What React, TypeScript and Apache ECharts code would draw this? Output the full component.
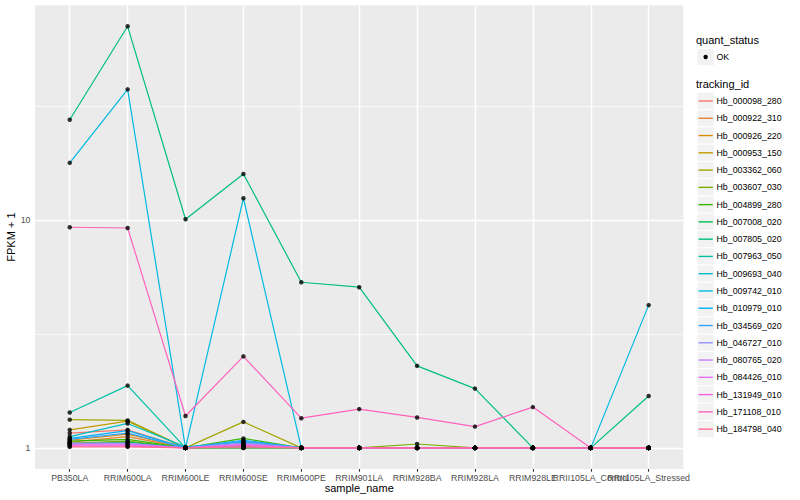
import React, { useEffect, useRef } from "react";
import * as echarts from "echarts";

const sampleNames = [
  "PB350LA", "RRIM600LA", "RRIM600LE", "RRIM600SE", "RRIM600PE", "RRIM901LA",
  "RRIM928BA", "RRIM928LA", "RRIM928LE", "RRII105LA_Control", "RRII105LA_Stressed",
];

const trackingIds = [
  "Hb_000098_280", "Hb_000922_310", "Hb_000926_220", "Hb_000953_150", "Hb_003362_060",
  "Hb_003607_030", "Hb_004899_280", "Hb_007008_020", "Hb_007805_020", "Hb_007963_050",
  "Hb_009693_040", "Hb_009742_010", "Hb_010979_010", "Hb_034569_020", "Hb_046727_010",
  "Hb_080765_020", "Hb_084426_010", "Hb_131949_010", "Hb_171108_010", "Hb_184798_040",
];

const hueColors = [
  "#F8766D", "#EA8331", "#D89000", "#C09B00", "#A3A500", "#7CAE00", "#39B600", "#00BB4E",
  "#00BF7D", "#00C1A3", "#00BFC4", "#00BAE0", "#00B0F6", "#35A2FF", "#9590FF", "#C77CFF",
  "#E76BF3", "#FA62DB", "#FF62BC", "#FF6C91",
];

// FPKM + 1 per sample, one array per tracking_id
const hb000098_280 = [1.16, 1.2, 1.0, 1.02, 1, 1, 1, 1, 1, 1, 1];
const hb000922_310 = [1.06, 1.12, 1.0, 1.01, 1, 1, 1, 1, 1, 1, 1];
const hb000926_220 = [1.08, 1.15, 1.0, 1.0, 1, 1, 1, 1, 1, 1, 1];
const hb000953_150 = [1.2, 1.31, 1.0, 1.0, 1, 1, 1, 1, 1, 1, 1];
const hb003362_060 = [1.33, 1.32, 1.0, 1.3, 1, 1, 1, 1, 1, 1, 1];
const hb003607_030 = [1.05, 1.07, 1.0, 1.03, 1, 1, 1.04, 1, 1, 1, 1];
const hb004899_280 = [1.07, 1.09, 1.0, 1.1, 1, 1, 1, 1, 1, 1, 1];
const hb007008_020 = [1.04, 1.06, 1.0, 1.02, 1, 1, 1, 1, 1, 1, 1];
const hb007805_020 = [27.5, 70.7, 10.07, 15.9, 5.33, 5.07, 2.29, 1.82, 1, 1, 1.69];
const hb007963_050 = [1.43, 1.876, 1.0, 1.0, 1, 1, 1, 1, 1, 1, 1];
const hb009693_040 = [1.12, 1.28, 1.01, 1.06, 1, 1, 1, 1, 1, 1, 1];
const hb009742_010 = [17.8, 37.4, 1.0, 12.45, 1, 1, 1, 1, 1, 1, 4.23];
const hb010979_010 = [1.1, 1.19, 1.0, 1.08, 1, 1, 1, 1, 1, 1, 1];
const hb034569_020 = [1.09, 1.16, 1.0, 1.07, 1, 1, 1, 1, 1, 1, 1];
const hb046727_010 = [1.05, 1.05, 1.0, 1.05, 1, 1, 1, 1, 1, 1, 1];
const hb080765_020 = [1.04, 1.04, 1.0, 1.04, 1, 1, 1, 1, 1, 1, 1];
const hb084426_010 = [1.03, 1.03, 1.0, 1.03, 1, 1, 1, 1, 1, 1, 1];
const hb131949_010 = [1.02, 1.02, 1.0, 1.02, 1, 1, 1, 1, 1, 1, 1];
const hb171108_010 = [9.29, 9.22, 1.38, 2.52, 1.35, 1.48, 1.36, 1.24, 1.51, 1, 1];
const hb184798_040 = [1.01, 1.01, 1.0, 1.01, 1, 1, 1, 1, 1, 1, 1];

const seriesValues = [
  hb000098_280, hb000922_310, hb000926_220, hb000953_150, hb003362_060,
  hb003607_030, hb004899_280, hb007008_020, hb007805_020, hb007963_050,
  hb009693_040, hb009742_010, hb010979_010, hb034569_020, hb046727_010,
  hb080765_020, hb084426_010, hb131949_010, hb171108_010, hb184798_040,
];

const yTicks = [1, 10];
const yMinorBreaks = [3.1623, 31.623];
const quantStatus = ["OK"];

const FONT = "'Liberation Sans', Arial, Helvetica, sans-serif";

export default function App() {
  const ref = useRef<HTMLDivElement>(null);

  useEffect(() => {
    if (!ref.current) return;
    const chart = echarts.init(ref.current, undefined, { renderer: "svg" });
    const idx = sampleNames.map((_, i) => i);

    // panel geometry (ggplot discrete expansion of 0.6 units on each side)
    const panelLeft = 35;
    const panelRight = 683.4;
    const unit = (panelRight - panelLeft) / (sampleNames.length - 1 + 1.2);
    const firstX = panelLeft + 0.6 * unit;
    const lastX = panelRight - 0.6 * unit;

    const lineSeries = trackingIds.map((id, i) => ({
      type: "line",
      name: id,
      data: seriesValues[i].map((v, j) => [j, v]),
      showSymbol: false,
      symbol: "none",
      silent: true,
      z: 3,
      lineStyle: { width: 1.2, color: hueColors[i] },
      itemStyle: { color: hueColors[i] },
    }));

    const points: number[][] = [];
    seriesValues.forEach((arr) => arr.forEach((v, j) => points.push([j, v])));

    const gridLines = {
      type: "line",
      data: [],
      silent: true,
      markLine: {
        z: 1,
        silent: true,
        symbol: ["none", "none"],
        label: { show: false },
        animation: false,
        data: [
          ...yMinorBreaks.map((v) => ({ yAxis: v, lineStyle: { color: "#FFFFFF", width: 0.7, type: "solid" } })),
          ...yTicks.map((v) => ({ yAxis: v, lineStyle: { color: "#FFFFFF", width: 1.4, type: "solid" } })),
          ...idx.map((v) => ({ xAxis: v, lineStyle: { color: "#FFFFFF", width: 1.4, type: "solid" } })),
        ],
      },
    };

    // legend drawn ggplot style
    const graphics: any[] = [];
    const keyX = 697;
    const keyW = 17.3;
    const textX = 716.5;
    const txt = (text: string, x: number, y: number, size: number) => ({
      type: "text",
      x,
      y,
      style: { text, fontSize: size, fontFamily: FONT, fill: "#000", align: "left", verticalAlign: "middle", textAlign: "left", textVerticalAlign: "middle" },
    });
    graphics.push(txt("quant_status", 696, 40, 11));
    quantStatus.forEach((q, i) => {
      const cy = 57 + i * keyW;
      graphics.push({ type: "rect", shape: { x: keyX, y: cy - keyW / 2, width: keyW, height: keyW }, style: { fill: "#F2F2F2", stroke: "#FFFFFF", lineWidth: 1 } });
      graphics.push({ type: "circle", shape: { cx: keyX + keyW / 2, cy, r: 2.2 }, style: { fill: "#000" } });
      graphics.push(txt(q, textX, cy, 8.8));
    });
    graphics.push(txt("tracking_id", 696, 84, 11));
    trackingIds.forEach((id, i) => {
      const cy = 101 + i * 17.27;
      graphics.push({ type: "rect", shape: { x: keyX, y: cy - keyW / 2, width: keyW, height: keyW }, style: { fill: "#F2F2F2", stroke: "#FFFFFF", lineWidth: 1 } });
      graphics.push({ type: "line", shape: { x1: keyX + 1.5, y1: cy, x2: keyX + keyW - 1.5, y2: cy }, style: { stroke: hueColors[i], lineWidth: 1.4 } });
      graphics.push(txt(id, textX, cy, 8.8));
    });

    chart.setOption({
      animation: false,
      backgroundColor: "#FFFFFF",
      textStyle: { fontFamily: FONT },
      grid: [
        {
          left: panelLeft,
          right: 800 - panelRight,
          top: 5.2,
          bottom: 31,
          show: true,
          backgroundColor: "#EBEBEB",
          borderWidth: 0,
          containLabel: false,
          outerBoundsMode: "none",
        },
        {
          left: firstX,
          right: 800 - lastX,
          top: 5.2,
          bottom: 31,
          show: false,
          containLabel: false,
          outerBoundsMode: "none",
        },
      ],
      xAxis: [
        {
          type: "value",
          gridIndex: 0,
          min: -0.6,
          max: 10.6,
          axisLine: { show: false },
          splitLine: { show: false },
          axisTick: { show: false },
          axisLabel: { show: false },
          name: "sample_name",
          nameLocation: "middle",
          nameGap: 13,
          nameTextStyle: { fontSize: 11, color: "#000000", fontFamily: FONT },
        },
        {
          type: "category",
          gridIndex: 1,
          data: sampleNames,
          boundaryGap: false,
          axisLine: { show: false },
          splitLine: { show: false },
          axisTick: { show: true, interval: 0, length: 2.75, lineStyle: { color: "#333333", width: 1.1 } },
          axisLabel: {
            interval: 0,
            fontSize: 8.8,
            color: "#4D4D4D",
            margin: 4.5,
            fontFamily: FONT,
            hideOverlap: false,
          },
        },
      ],
      yAxis: [
        {
          type: "log",
          gridIndex: 0,
          logBase: 10,
          min: 0.808,
          max: 87.5,
          axisLine: { show: false },
          splitLine: { show: false },
          minorSplitLine: { show: false },
          axisTick: { show: true, customValues: yTicks, length: 2.75, lineStyle: { color: "#333333", width: 1.1 } },
          axisLabel: {
            customValues: yTicks,
            formatter: (v: number) => String(Math.round(v)),
            fontSize: 8.8,
            color: "#4D4D4D",
            margin: 4.5,
            fontFamily: FONT,
            showMinLabel: true,
            showMaxLabel: true,
          },
          name: "FPKM + 1",
          nameLocation: "middle",
          nameGap: 18.5,
          nameRotate: 90,
          nameMoveOverlap: false,
          nameTextStyle: { fontSize: 11, color: "#000000", fontFamily: FONT },
        },
        {
          type: "value",
          gridIndex: 1,
          min: 0,
          max: 1,
          show: false,
        },
      ],
      series: [
        gridLines,
        ...lineSeries,
        {
          type: "scatter",
          name: "OK",
          data: points,
          symbol: "circle",
          symbolSize: 4.5,
          silent: true,
          z: 4,
          itemStyle: { color: "#000000" },
        },
      ],
      graphic: graphics,
    });

    return () => chart.dispose();
  }, []);

  return (
    <div
      ref={ref}
      style={{ position: "fixed", left: 0, top: 0, width: 800, height: 500 }}
    />
  );
}
